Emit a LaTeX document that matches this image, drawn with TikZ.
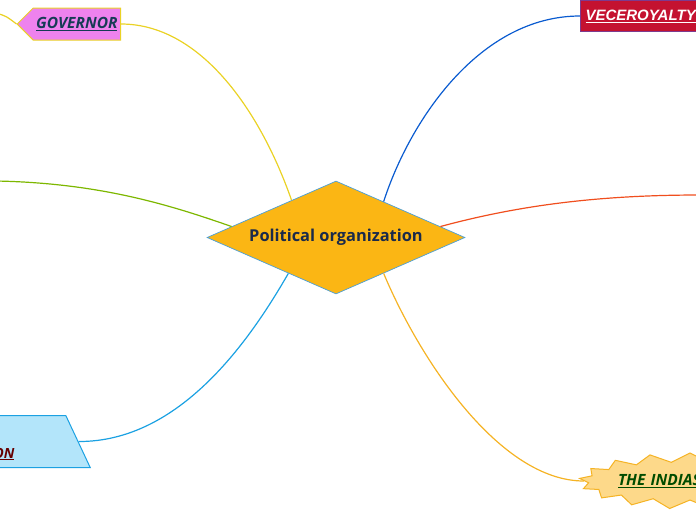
\documentclass[tikz,border=0pt]{standalone}
\usepackage{fontspec}
\setmainfont{Open Sans}
\newfontfamily\arialfont{Liberation Sans}
\usetikzlibrary{shapes.geometric,shapes.symbols}
\definecolor{hubfill}{HTML}{FBB614}
\definecolor{hubline}{HTML}{4A9FD8}
\definecolor{hubtext}{HTML}{1B2A4A}
\definecolor{govfill}{HTML}{EE82EE}
\definecolor{govline}{HTML}{EAD225}
\definecolor{vicfill}{HTML}{C41230}
\definecolor{vicline}{HTML}{7E3A8E}
\definecolor{vicarc}{HTML}{0A5BD0}
\definecolor{redarc}{HTML}{F04E1E}
\definecolor{greenarc}{HTML}{7DB700}
\definecolor{skyfill}{HTML}{B3E5FA}
\definecolor{skyline}{HTML}{1BA1E2}
\definecolor{indfill}{HTML}{FDD98A}
\definecolor{indline}{HTML}{F5B324}
\tikzset{
  topic/.style={font=\bfseries\itshape\fontsize{15.5}{17}\selectfont},
  branch/.style={line width=1.2pt}
}
\begin{document}
\begin{tikzpicture}[x=1pt,y=-1pt]
\useasboundingbox (0,0) rectangle (696,520);
\clip (0,0) rectangle (696,520);

% Main idea
\node[diamond, aspect=2.28, draw=hubline, fill=hubfill, line width=0.7pt, inner sep=0pt, minimum width=258pt, minimum height=113pt,
  text=hubtext, font=\bfseries\fontsize{16.4}{18}\selectfont] (pol) at (336,237.5) {Political organization};

% Topics
\node[topic, signal, signal to=west, signal from=nowhere, draw=govline, fill=govfill, line width=1pt,
  inner xsep=3pt, minimum height=32pt, text=hubtext!80!teal, anchor=east] (gov) at (121,24) {\underline{GOVERNOR}};
\node[topic, draw=vicline, fill=vicfill, line width=1pt, inner xsep=5pt, minimum height=31pt,
  text=white, font=\arialfont\bfseries\itshape\fontsize{15}{17}\selectfont, anchor=west] (vic) at (580,16) {\underline{VECEROYALTY}};
\node[trapezium, trapezium left angle=90, trapezium right angle=79, trapezium stretches=true, draw=skyline, fill=skyfill,
  line width=1pt, minimum width=150pt, minimum height=52pt, anchor=bottom right corner] (sky) at (91,468) {};
\node[topic, font=\bfseries\itshape\fontsize{14}{16}\selectfont, text=red!40!black, anchor=base east] (skytext) at (18,458) {\underline{ON}};
\node[topic, starburst, starburst points=17, random starburst=0, starburst point height=9pt, draw=indline, fill=indfill,
  line width=1pt, inner sep=0pt, text width=144pt, align=left, minimum width=190pt, minimum height=56pt,
  text=green!30!black] (ind) at (690,481) {\underline{THE INDIAS}};

% Free ends
\coordinate (govend) at (-4,13);
\coordinate (redend) at (700,195);
\coordinate (greenend) at (-4,181);

% Branches
\draw[branch, govline] (gov.east) .. controls (200,24) and (260,110) .. (pol.140);
\draw[branch, govline] (govend) .. controls (6,16) .. (gov.west);
\draw[branch, vicarc] (vic.west) .. controls (480,16) and (410,120) .. (pol.37);
\draw[branch, redarc] (pol.6) .. controls (520,205) and (600,195) .. (redend);
\draw[branch, greenarc] (greenend) .. controls (100,183) and (170,205) .. (pol.174);
\draw[branch, skyline] (sky.east) .. controls (180,442) and (250,340) .. (pol.217);
\draw[branch, indline] (pol.-37) .. controls (420,360) and (500,481) .. (ind.west);
\end{tikzpicture}
\end{document}
